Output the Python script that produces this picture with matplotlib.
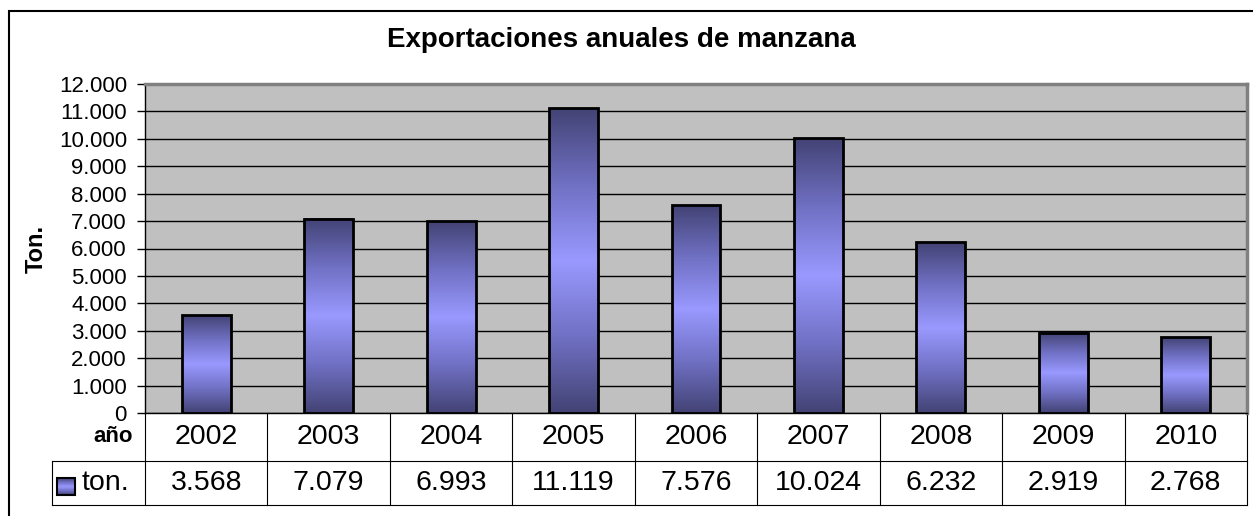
import numpy as np
import matplotlib.pyplot as plt
from matplotlib.colors import LinearSegmentedColormap
from matplotlib.patches import Rectangle
from matplotlib.transforms import blended_transform_factory

plt.rcParams['font.family'] = ['Liberation Sans', 'DejaVu Sans']

years = ['2002', '2003', '2004', '2005', '2006', '2007', '2008', '2009', '2010']
tons = [3568, 7079, 6993, 11119, 7576, 10024, 6232, 2919, 2768]
series_name = 'ton.'
title = 'Exportaciones anuales de manzana'


def dotted(v):
    # thousands with dots, like the spanish excel sheet
    return f"{v:,}".replace(',', '.')


W, H = 1253, 516
fig = plt.figure(figsize=(W / 100, H / 100), dpi=100)

# outer chart border
fig.add_artist(Rectangle((9 / W, -0.5), 2, 1 - 11 / H + 0.5, transform=fig.transFigure,
                         fill=False, edgecolor='black', linewidth=1.5))

ax = fig.add_axes([145 / W, 1 - 413 / H, (1247 - 145) / W, (413 - 84) / H])
ax.set_facecolor('#C0C0C0')

x = np.arange(len(years))
ax.set_xlim(-0.5, len(years) - 0.5)
ax.set_ylim(0, 12000)
ax.set_yticks(range(0, 12001, 1000))
ax.set_yticklabels([dotted(v) for v in range(0, 12001, 1000)])
ax.set_xticks([])
ax.tick_params(axis='y', direction='out', length=6, width=1, labelsize=16, pad=7)
ax.yaxis.grid(True, color='black', linewidth=1)
ax.set_axisbelow(True)

for s in ['left', 'bottom']:
    ax.spines[s].set_color('black')
    ax.spines[s].set_linewidth(1)
for s in ['top', 'right']:
    ax.spines[s].set_color('#808080')
    ax.spines[s].set_linewidth(2.5)

# bars with the excel style gradient
cmap = LinearSegmentedColormap.from_list('bar', ['#434375', '#7070C4', '#9999FF', '#7070C4', '#434375'])
grad = np.linspace(0, 1, 256).reshape(-1, 1)
width = 0.4
for xi, v in zip(x, tons):
    ax.imshow(grad, cmap=cmap, aspect='auto', interpolation='bicubic',
              extent=[xi - width / 2, xi + width / 2, 0, v], zorder=3)
ax.bar(x, tons, width=width, facecolor='none', edgecolor='black', linewidth=2, zorder=4)
ax.set_xlim(-0.5, len(years) - 0.5)
ax.set_ylim(0, 12000)

# data table under the plot
trans = blended_transform_factory(ax.transData, ax.transAxes)
r1 = -(461 - 413) / (413 - 84)
r2 = -(505 - 413) / (413 - 84)
left = (52 - 145) / (1247 - 145)

for k in range(len(years) + 1):
    ax.plot([k - 0.5, k - 0.5], [0, r2], transform=trans, color='black', lw=0.8, clip_on=False)
ax.plot([left, 1], [r1, r1], transform=ax.transAxes, color='black', lw=0.8, clip_on=False)
ax.plot([left, 1], [r2, r2], transform=ax.transAxes, color='black', lw=0.8, clip_on=False)
ax.plot([left, left], [r1, r2], transform=ax.transAxes, color='black', lw=0.8, clip_on=False)

for xi, yr, v in zip(x, years, tons):
    ax.text(xi, r1 / 2, yr, transform=trans, ha='center', va='center', fontsize=20.5)
    ax.text(xi, (r1 + r2) / 2, dotted(v), transform=trans, ha='center', va='center', fontsize=20.5)

ax.text((133 - 145) / 1102, r1 / 2, 'año', transform=ax.transAxes, ha='right', va='center',
        fontsize=16, fontweight='bold')
ax.text((82 - 145) / 1102, (r1 + r2) / 2, series_name, transform=ax.transAxes, ha='left',
        va='center', fontsize=20.5)

# legend key
kx0, kx1 = (57 - 145) / 1102, (75 - 145) / 1102
ky0, ky1 = -(495 - 413) / 329, -(478 - 413) / 329
ax.imshow(grad, cmap=cmap, aspect='auto', interpolation='bicubic',
          extent=[kx0, kx1, ky0, ky1], transform=ax.transAxes, clip_on=False, zorder=3)
ax.add_patch(Rectangle((kx0, ky0), kx1 - kx0, ky1 - ky0, transform=ax.transAxes,
                       fill=False, edgecolor='black', lw=1.5, clip_on=False, zorder=4))
ax.set_xlim(-0.5, len(years) - 0.5)
ax.set_ylim(0, 12000)

fig.text(621 / W, 1 - 47 / H, title, ha='center', va='baseline', fontsize=20, fontweight='bold')
fig.text(36 / W, 1 - 249 / H, 'Ton.', rotation=90, ha='center', va='center', fontsize=17,
         fontweight='bold')

fig.savefig('out.png', dpi=100)
